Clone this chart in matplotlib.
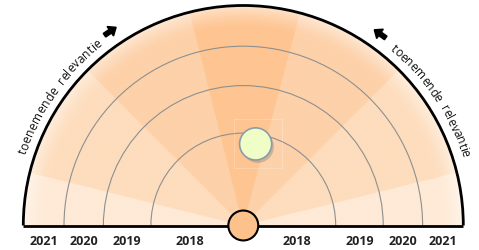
import numpy as np
import matplotlib
matplotlib.use('Agg')
import matplotlib.pyplot as plt
from matplotlib.patches import Arc, Circle, FancyArrow, Rectangle
from matplotlib.colors import to_rgb

# ---- data ----
years = ['2018', '2019', '2020', '2021']
ring_radii = [0.42, 0.636, 0.815, 1.0]
wedge_edges = [0, 14, 45, 75, 104, 135, 166, 180]
wedge_levels = [0, 1, 2, 3, 2, 1, 0]
level_colors = ['#FEEAD6', '#FDDDBD', '#FDD1A9', '#FEC592']
topic_r = 0.375
topic_angle = 81.4
hub_radius = 0.068
curve_label = 'toenemende relevantie'

# ---- layout ----
W, H = 479, 251
cx, cy, R = 243.3, 226.5, 220.0

fig = plt.figure(figsize=(W / 100, H / 100), dpi=100)
ax = fig.add_axes([0, 0, 1, 1])
ax.set_xlim(-cx / R, (W - cx) / R)
ax.set_ylim(-(H - cy) / R, cy / R)
ax.axis('off')

# ---- shaded wedges with outer glow ----
nx, ny = 960, 480
xs = np.linspace(-1, 1, nx)
ys = np.linspace(0, 1, ny)
X, Y = np.meshgrid(xs, ys)
Rr = np.hypot(X, Y)
T = np.degrees(np.arctan2(Y, X))
cols = np.array([to_rgb(c) for c in level_colors])
idx = np.digitize(T, wedge_edges[1:-1])
lev = np.array(wedge_levels)[idx]
rgb = cols[lev]
glow = np.clip((Rr - 0.9) / 0.1, 0, 1) ** 1.5 * 0.5
rgb = rgb * (1 - glow[..., None]) + glow[..., None]
img = np.ones((ny, nx, 4))
img[..., :3] = rgb
img[..., 3] = (Rr <= 1.0).astype(float)
ax.imshow(img, extent=(-1, 1, 0, 1), origin='lower', interpolation='bilinear',
          zorder=1, aspect='auto')

# ---- rings ----
for r in ring_radii[:-1]:
    ax.add_patch(Arc((0, 0), 2 * r, 2 * r, theta1=0, theta2=180,
                     color='#8F8F8F', lw=0.8, zorder=2))
ax.add_patch(Arc((0, 0), 2 * ring_radii[-1], 2 * ring_radii[-1], theta1=0, theta2=180,
                 color='black', lw=2, zorder=3))
ax.plot([-1, 1], [0, 0], color='black', lw=2, solid_capstyle='butt', zorder=3)

# ---- year labels ----
inner = [hub_radius] + ring_radii[:-1]
for yr, a, b in zip(years, inner, ring_radii):
    m = (a + b) / 2
    for s in (-1, 1):
        ax.text(s * m, -0.066, yr, ha='center', va='center', fontsize=9,
                family='Open Sans', fontweight='bold', color='#222222', zorder=4)

# ---- hub and topic ----
ax.add_patch(Circle((0, 0), hub_radius, facecolor='#FDC18C', edgecolor='black',
                    lw=1.5, zorder=5))
tx = topic_r * np.cos(np.radians(topic_angle))
ty = topic_r * np.sin(np.radians(topic_angle))
ax.add_patch(Rectangle((tx - 0.1, ty - 0.11), 0.22, 0.225, fill=False,
                       edgecolor='white', lw=0.5, alpha=0.3, zorder=4))
ax.add_patch(Circle((tx + 0.01, ty - 0.013), 0.073, facecolor='#777777',
                    edgecolor='none', alpha=0.35, zorder=5))
ax.add_patch(Circle((tx, ty), 0.073, facecolor='#EFFEC6', edgecolor='#8C9BAA',
                    lw=1.2, zorder=6))

# ---- curved text ----
renderer = fig.canvas.get_renderer()


def text_width(t, fs, fam):
    tt = ax.text(0, 0, t, fontsize=fs, family=fam)
    w = tt.get_window_extent(renderer).width
    tt.remove()
    return w


def curved_text(s, start_deg, end_deg, r_base, fs=8.6, fam='Open Sans',
                space_extra=3.0):
    centres, chars = [], []
    extra = 0.0
    for i, c in enumerate(s):
        if c == ' ':
            extra += space_extra
            continue
        centres.append(text_width(s[:i + 1], fs, fam) - text_width(c, fs, fam) / 2 + extra)
        chars.append(c)
    centres = np.array(centres)
    frac = (centres - centres[0]) / (centres[-1] - centres[0])
    for c, f in zip(chars, frac):
        th = start_deg + f * (end_deg - start_deg)
        x = r_base * np.cos(np.radians(th))
        y = r_base * np.sin(np.radians(th))
        ax.text(x, y, c, fontsize=fs, family=fam, color='#111111',
                rotation=th - 90, rotation_mode='anchor',
                ha='center', va='baseline', zorder=4)


def arrow_at(deg, direction, r=1.07):
    th = np.radians(deg)
    d = np.array([np.sin(th), -np.cos(th)]) * direction
    L = 0.064
    p = np.array([r * np.cos(th), r * np.sin(th)]) - d * L / 2
    ax.add_patch(FancyArrow(p[0], p[1], d[0] * L, d[1] * L, width=0.02,
                            head_width=0.052, head_length=0.032,
                            length_includes_head=True, color='black', zorder=4))


curved_text(curve_label, 161.3, 128.6, 1.042)
curved_text(curve_label, 49.7, 18.3, 1.042)
arrow_at(124.4, 1)
arrow_at(54.5, -1)

fig.savefig('out.png', dpi=100)
